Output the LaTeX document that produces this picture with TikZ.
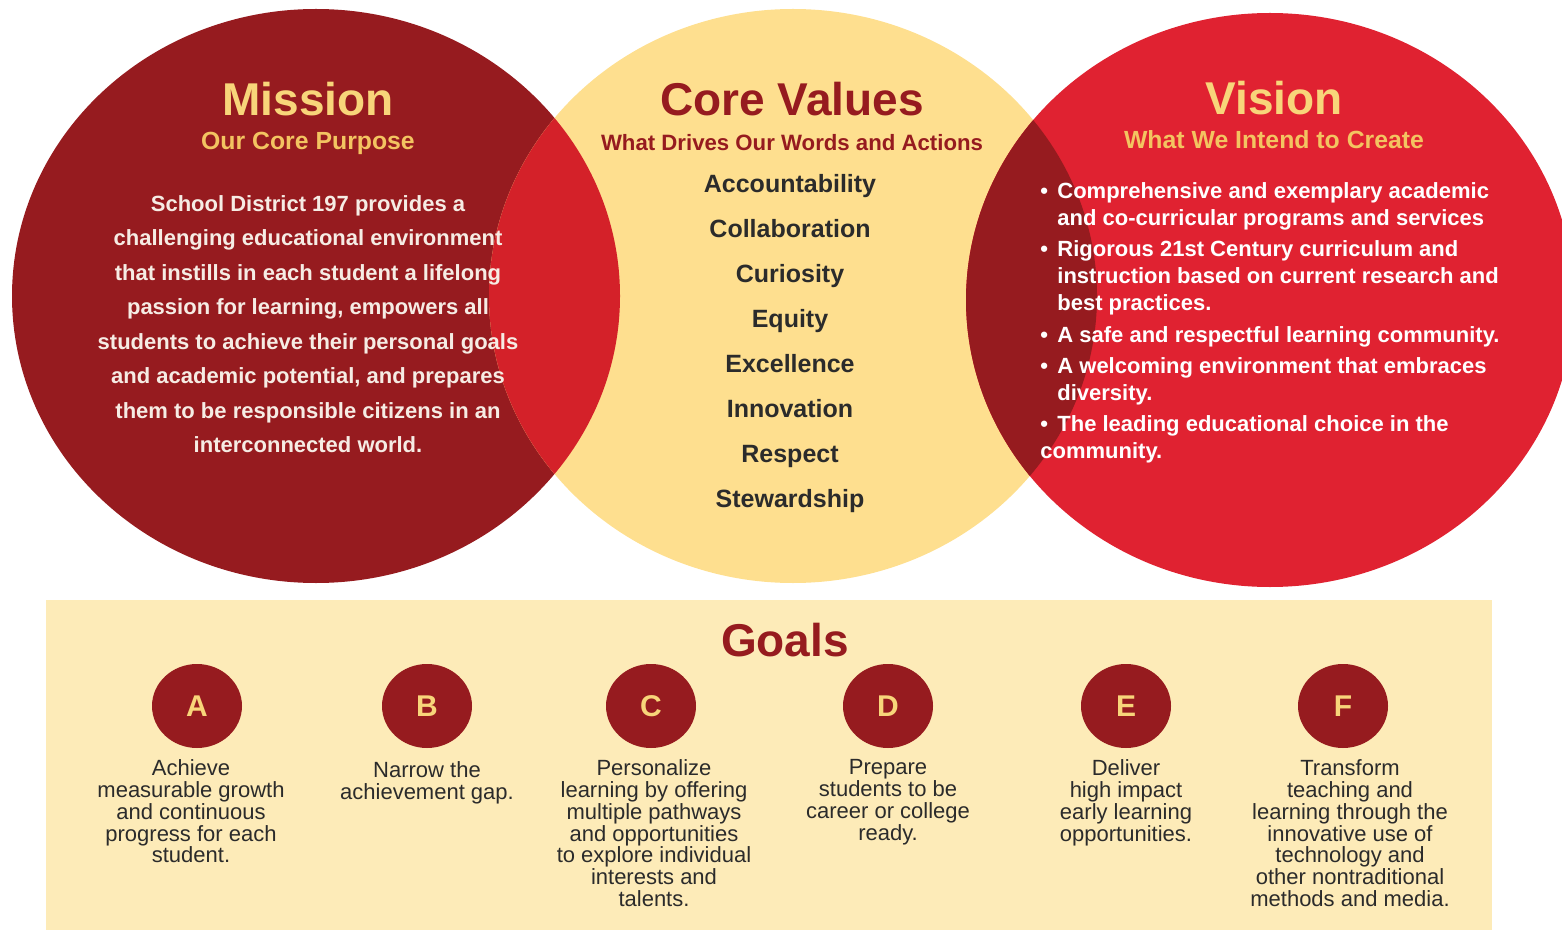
\documentclass[tikz,border=0pt]{standalone}
\usepackage{fontspec}
\setmainfont{Liberation Sans}
\usepackage{tikz}
\usetikzlibrary{positioning,shapes.geometric}
\usepackage{xcolor}
\definecolor{maroon}{HTML}{961B1F}
\definecolor{scarlet}{HTML}{E02231}
\definecolor{blend}{HTML}{D42129}
\definecolor{butter}{HTML}{FEDF8F}
\definecolor{paleyellow}{HTML}{FDEBB8}
\definecolor{gold}{HTML}{F8D57A}
\definecolor{amber}{HTML}{F3C461}
\definecolor{ink}{HTML}{2B2B2B}
\definecolor{cream}{HTML}{F6ECE4}

\begin{document}
\begin{tikzpicture}[
  x=0.5pt, y=-0.5pt,
  bubble/.style={x radius=304, y radius=287},
  title/.style={font=\fontsize{23}{27}\selectfont\bfseries, anchor=base},
  subtitle/.style={font=\fontsize{12.4}{14}\selectfont\bfseries, anchor=base},
  goal/.style={ellipse, fill=maroon, minimum width=45pt, minimum height=42pt,
    text=gold, font=\fontsize{15}{18}\selectfont\bfseries},
  goaltext/.style={text=ink, align=center, anchor=north,
    font=\fontsize{11}{10.9}\selectfont}
  ]
  \tikzstyle{every node}=[inner sep=0pt]
  \clip (0,0) rectangle (1562,930);
  \coordinate (mc) at (316,296);
  \coordinate (cc) at (793,296);
  \coordinate (vc) at (1270,300);

  % the three circles and their overlaps
  \fill[maroon] (mc) ellipse [bubble];
  \fill[butter] (cc) ellipse [bubble];
  \fill[scarlet] (vc) ellipse [bubble];
  \begin{scope}
    \clip (mc) ellipse [bubble];
    \fill[blend] (cc) ellipse [bubble];
  \end{scope}
  \begin{scope}
    \clip (cc) ellipse [bubble];
    \fill[maroon] (vc) ellipse [bubble];
  \end{scope}

  % mission
  \node[title, text=gold] (mtitle) at (308,116) {Mission};
  \node[subtitle, text=amber] (msub) at (308,150) {Our Core Purpose};
  \node[text=cream, align=center, anchor=north,
    font=\fontsize{11}{17.25}\selectfont\bfseries] (mtext) at (308,195)
    {School District 197 provides a\\challenging educational environment\\
     that instills in each student a lifelong\\passion for learning, empowers all\\
     students to achieve their personal goals\\and academic potential, and prepares\\
     them to be responsible citizens in an\\interconnected world.};

  % core values
  \node[title, text=maroon] (ctitle) at (792,116) {Core Values};
  \node[subtitle, text=maroon, font=\fontsize{11.1}{14}\selectfont\bfseries] (csub) at (792,151)
    {What Drives Our Words and Actions};
  \node[text=ink, align=center, anchor=north,
    font=\fontsize{12.5}{22.5}\selectfont\bfseries] (ctext) at (790,174)
    {Accountability\\Collaboration\\Curiosity\\Equity\\Excellence\\
     Innovation\\Respect\\Stewardship};

  % vision
  \node[title, text=gold] (vtitle) at (1274,115) {Vision};
  \node[subtitle, text=amber] (vsub) at (1274,149) {What We Intend to Create};
  \node[text=white, align=left, anchor=north west,
    font=\fontsize{11}{13.5}\selectfont\bfseries] (vtext) at (1040,182)
    {\makebox[8.5pt][l]{\textbullet}Comprehensive and exemplary academic\\
     \hspace*{8.5pt}and co-curricular programs and services\\[2pt]
     \makebox[8.5pt][l]{\textbullet}Rigorous 21st Century curriculum and\\
     \hspace*{8.5pt}instruction based on current research and\\
     \hspace*{8.5pt}best practices.\\[2.5pt]
     \makebox[8.5pt][l]{\textbullet}A safe and respectful learning community.\\[2pt]
     \makebox[8.5pt][l]{\textbullet}A welcoming environment that embraces\\
     \hspace*{8.5pt}diversity.\\[2pt]
     \makebox[8.5pt][l]{\textbullet}The leading educational choice in the\\
     community.};

  % goals
  \fill[paleyellow] (46,600) rectangle (1492,930);
  \node[title, text=maroon] (gtitle) at (785,656) {Goals};
  \foreach \l/\x in {A/197,B/427,C/651,D/888,E/1126,F/1343}
    \node[goal] (g\l) at (\x,706) {\l};

  \node[goaltext, below=5.5pt of gA, xshift=-3pt] (tA)
    {Achieve\\measurable growth\\and continuous\\progress for each\\student.};
  \node[goaltext, below=6.5pt of gB] (tB)
    {Narrow the\\achievement gap.};
  \node[goaltext, below=5.5pt of gC, xshift=1.5pt] (tC)
    {Personalize\\learning by offering\\multiple pathways\\and opportunities\\
     to explore individual\\interests and\\talents.};
  \node[goaltext, below=5.5pt of gD] (tD)
    {Prepare\\students to be\\career or college\\ready.};
  \node[goaltext, below=5.5pt of gE] (tE)
    {Deliver\\high impact\\early learning\\opportunities.};
  \node[goaltext, below=5.5pt of gF, xshift=3.5pt] (tF)
    {Transform\\teaching and\\learning through the\\innovative use of\\
     technology and\\other nontraditional\\methods and media.};

\end{tikzpicture}
\end{document}
